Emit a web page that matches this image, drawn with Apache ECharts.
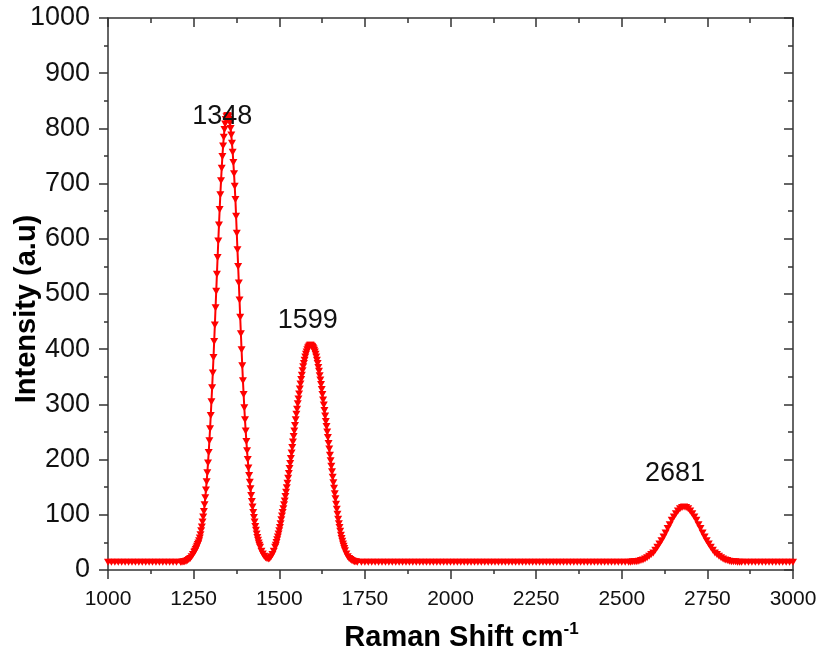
<!DOCTYPE html>
<html>
<head>
<meta charset="utf-8">
<script src="https://cdn.jsdelivr.net/npm/echarts@6/dist/echarts.min.js"></script>
<style>
  html, body { margin: 0; padding: 0; background: #fff; }
  #chart { width: 822px; height: 658px; }
</style>
</head>
<body>
<div id="chart"></div>
<script>
// Raman spectrum: [shift cm-1, intensity a.u.]
const baselineLeft = [
  [1000,14],[1010,14],[1020,14],[1030,14],[1040,14],[1050,14],[1060,14],[1070,14],[1080,14],[1090,14],
  [1100,14],[1110,14],[1120,14],[1130,14],[1140,14],[1150,14],[1160,14],[1170,14],[1180,14],[1190,14],
  [1200,14]
]

// D band
const bandD = [
  [1212,14],[1216,14],[1220,15],[1224,15],[1228,16],[1232,17],[1236,19],[1240,21],[1244,24],[1248,28],
  [1252,32],[1254,34],[1256,37],[1258,40],[1260,43],[1262,46],[1264,49],[1266,53],[1268,58],[1270,64],
  [1272,71],[1274,78],[1276,87],[1278,96],[1280,106],[1282,118],[1284,131],[1286,145],[1288,160],[1290,176],
  [1292,194],[1294,213],[1296,234],[1298,256],[1300,280],[1302,305],[1304,330],[1306,357],[1308,385],[1310,414],
  [1312,444],[1314,475],[1316,505],[1318,536],[1320,566],[1322,596],[1324,625],[1326,653],[1328,680],[1330,705],
  [1332,728],[1334,749],[1336,768],[1338,784],[1340,798],[1342,808],[1344,816],[1346,821],[1348,823],[1350,823],
  [1352,821],[1354,816],[1356,810],[1358,800],[1360,788],[1362,773],[1364,757],[1366,738],[1368,718],[1370,695],
  [1372,671],[1374,641],[1376,610],[1378,580],[1380,550],[1382,520],[1384,489],[1386,458],[1388,428],[1390,399],
  [1392,370],[1394,343],[1396,318],[1398,294],[1400,272],[1402,252],[1404,233],[1406,216],[1408,200],[1410,185],
  [1412,171],[1414,159],[1416,147],[1418,135],[1420,124],[1422,114],[1424,104],[1426,95],[1428,87],[1430,79],
  [1432,72],[1434,65],[1436,59],[1438,54],[1440,49],[1442,45],[1444,41],[1448,34],[1452,29],[1456,25],
  [1460,22],[1464,21],[1468,20]
]

// G band
const bandG = [
  [1472,21],[1476,24],[1480,28],[1484,34],[1488,41],[1490,45],[1492,50],[1494,55],[1496,60],[1498,65],
  [1500,71],[1502,77],[1504,84],[1506,91],[1508,98],[1510,104],[1512,111],[1514,118],[1516,125],[1518,133],
  [1520,141],[1522,149],[1524,157],[1526,166],[1528,175],[1530,184],[1532,193],[1534,202],[1536,212],[1538,222],
  [1540,232],[1542,242],[1544,252],[1546,262],[1548,272],[1550,282],[1552,291],[1554,301],[1556,310],[1558,319],
  [1560,328],[1562,337],[1564,345],[1566,353],[1568,361],[1570,368],[1572,374],[1574,380],[1576,386],[1578,391],
  [1580,395],[1582,399],[1584,402],[1586,404],[1588,406],[1590,407],[1592,407],[1594,406],[1596,405],[1598,403],
  [1600,401],[1602,398],[1604,395],[1606,391],[1608,386],[1610,380],[1612,374],[1614,367],[1616,360],[1618,352],
  [1620,344],[1622,336],[1624,327],[1626,318],[1628,308],[1630,299],[1632,289],[1634,279],[1636,269],[1638,260],
  [1640,250],[1642,240],[1644,229],[1646,219],[1648,208],[1650,198],[1652,188],[1654,178],[1656,168],[1658,158],
  [1660,148],[1662,138],[1664,129],[1666,119],[1668,110],[1670,101],[1672,92],[1674,84],[1676,77],[1678,70],
  [1680,63],[1682,57],[1684,52],[1686,47],[1688,43],[1690,39],[1692,35],[1696,29],[1700,24],[1704,21],
  [1708,19],[1712,17],[1716,16],[1720,15],[1724,15],[1728,14]
]

const baselineMid = [
  [1740,14],[1750,14],[1760,14],[1770,14],[1780,14],[1790,14],[1800,14],[1810,14],[1820,14],[1830,14],
  [1840,14],[1850,14],[1860,14],[1870,14],[1880,14],[1890,14],[1900,14],[1910,14],[1920,14],[1930,14],
  [1940,14],[1950,14],[1960,14],[1970,14],[1980,14],[1990,14],[2000,14],[2010,14],[2020,14],[2030,14],
  [2040,14],[2050,14],[2060,14],[2070,14],[2080,14],[2090,14],[2100,14],[2110,14],[2120,14],[2130,14],
  [2140,14],[2150,14],[2160,14],[2170,14],[2180,14],[2190,14],[2200,14],[2210,14],[2220,14],[2230,14],
  [2240,14],[2250,14],[2260,14],[2270,14],[2280,14],[2290,14],[2300,14],[2310,14],[2320,14],[2330,14],
  [2340,14],[2350,14],[2360,14],[2370,14],[2380,14],[2390,14],[2400,14],[2410,14],[2420,14],[2430,14],
  [2440,14],[2450,14],[2460,14],[2470,14],[2480,14],[2490,14],[2500,14],[2510,14]
]

// 2D band
const band2D = [
  [2520,14],[2526,14],[2532,15],[2538,15],[2544,15],[2550,16],[2556,17],[2562,18],[2568,20],[2574,22],
  [2580,25],[2586,28],[2592,31],[2598,36],[2604,41],[2610,47],[2616,53],[2622,60],[2628,67],[2634,75],
  [2640,82],[2646,90],[2652,96],[2658,102],[2664,107],[2670,111],[2676,113],[2682,114],[2688,113],[2694,111],
  [2700,107],[2706,102],[2712,96],[2718,90],[2724,82],[2730,75],[2736,67],[2742,60],[2748,53],[2754,47],
  [2760,41],[2766,36],[2772,31],[2778,28],[2784,25],[2790,22],[2796,20],[2802,18],[2808,17],[2814,16],
  [2820,15],[2826,15],[2832,15],[2838,14],[2844,14]
]

const baselineRight = [
  [2850,14],[2860,14],[2870,14],[2880,14],[2890,14],[2900,14],[2910,14],[2920,14],[2930,14],[2940,14],
  [2950,14],[2960,14],[2970,14],[2980,14],[2990,14],[3000,14]
]

const peakNames = ['1348', '1599', '2681']
const peakCoords = [[1348, 823], [1592, 407], [2682, 114]]
const peakOffsets = [[-5, 1], [-3, -25], [-9, -34]]

const spectrum = [].concat(baselineLeft, bandD, bandG, baselineMid, band2D, baselineRight)

const font = 'Liberation Sans, Arial, sans-serif'
const axisColor = '#333'
const plain = v => String(v)

const chart = echarts.init(document.getElementById('chart'))

const option = {
  animation: false,
  backgroundColor: '#fff',
  grid: { left: 108, right: 29, top: 18, bottom: 88, containLabel: false, outerBoundsMode: 'none' },
  xAxis: [
    {
      type: 'value',
      min: 1000,
      max: 3000,
      interval: 250,
      name: 'Raman Shift cm{sup|-1}',
      nameLocation: 'middle',
      nameGap: 51,
      nameMoveOverlap: false,
      nameTextStyle: {
        fontFamily: font,
        fontSize: 29,
        fontWeight: 'bold',
        color: '#000',
        padding: [0, 0, 0, 22],
        rich: {
          sup: { fontFamily: font, fontSize: 17, fontWeight: 'bold', color: '#000', padding: [0, 0, 17, 0] }
        }
      },
      axisLine: { show: true, onZero: false, lineStyle: { color: axisColor, width: 1.5 } },
      axisTick: { show: true, length: 9, lineStyle: { color: axisColor, width: 1.5 } },
      minorTick: { show: true, splitNumber: 2, length: 4, lineStyle: { color: axisColor, width: 1.5 } },
      axisLabel: { fontFamily: font, fontSize: 21, color: '#111', margin: 19, formatter: plain },
      splitLine: { show: false }
    },
    {
      type: 'value',
      position: 'top',
      min: 1000,
      max: 3000,
      interval: 250,
      axisLine: { show: true, onZero: false, lineStyle: { color: axisColor, width: 1.5 } },
      axisTick: { show: true, inside: true, length: 9, lineStyle: { color: axisColor, width: 1.5 } },
      minorTick: { show: true, splitNumber: 2, length: 5, lineStyle: { color: axisColor, width: 1.5 } },
      axisLabel: { show: false },
      splitLine: { show: false }
    }
  ],
  yAxis: [
    {
      type: 'value',
      min: 0,
      max: 1000,
      interval: 100,
      name: 'Intensity (a.u)',
      nameLocation: 'middle',
      nameGap: 67,
      nameMoveOverlap: false,
      nameTextStyle: {
        fontFamily: font,
        fontSize: 29,
        fontWeight: 'bold',
        color: '#000',
        padding: [0, 30, 0, 0]
      },
      axisLine: { show: true, onZero: false, lineStyle: { color: axisColor, width: 1.5 } },
      axisTick: { show: true, length: 9, lineStyle: { color: axisColor, width: 1.5 } },
      minorTick: { show: true, splitNumber: 2, length: 4, lineStyle: { color: axisColor, width: 1.5 } },
      axisLabel: { fontFamily: font, fontSize: 27, color: '#111', margin: 18, formatter: plain },
      splitLine: { show: false }
    },
    {
      type: 'value',
      position: 'right',
      min: 0,
      max: 1000,
      interval: 100,
      axisLine: { show: true, onZero: false, lineStyle: { color: axisColor, width: 1.5 } },
      axisTick: { show: true, inside: true, length: 9, lineStyle: { color: axisColor, width: 1.5 } },
      minorTick: { show: true, splitNumber: 2, length: 5, lineStyle: { color: axisColor, width: 1.5 } },
      axisLabel: { show: false },
      splitLine: { show: false }
    }
  ],
  series: [
    {
      name: 'Raman',
      type: 'line',
      xAxisIndex: 0,
      yAxisIndex: 0,
      data: spectrum,
      showAllSymbol: true,
      symbol: 'triangle',
      symbolRotate: 180,
      symbolSize: [8, 7],
      lineStyle: { color: '#ff0000', width: 2 },
      itemStyle: { color: '#ff0000' },
      markPoint: {
        symbol: 'circle',
        symbolSize: 0,
        data: peakNames.map((name, i) => ({
          name: name,
          coord: peakCoords[i],
          label: { offset: peakOffsets[i] }
        })),
        label: {
          show: true,
          position: 'inside',
          formatter: '{b}',
          fontFamily: font,
          fontSize: 27,
          color: '#111'
        }
      }
    }
  ]
}

chart.setOption(option)
</script>
</body>
</html>
